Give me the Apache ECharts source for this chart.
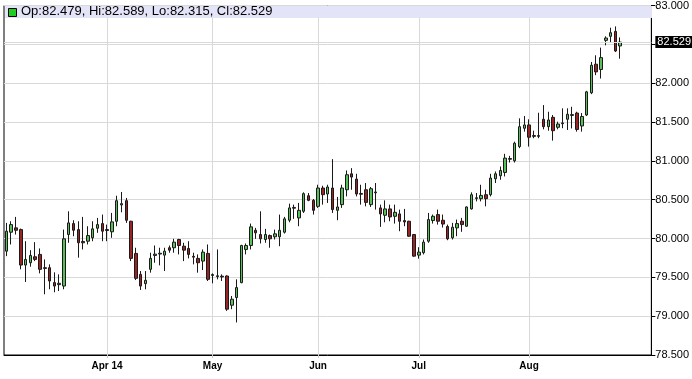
<!DOCTYPE html>
<html>
<head>
<meta charset="utf-8">
<script src="https://cdn.jsdelivr.net/npm/echarts@6/dist/echarts.min.js"></script>
<style>
html,body{margin:0;padding:0;background:#fff;}
#chart{width:692px;height:379px;}
</style>
</head>
<body>
<div id="chart"></div>
<script>
// Trading-day categories (weekdays), Mar 3 2014 .. Sep 5 2014 (last 6 are empty space)
function weekdays(startStr, endStr) {
  const out = [];
  const d = new Date(startStr + 'T00:00:00Z');
  const end = new Date(endStr + 'T00:00:00Z');
  while (d <= end) {
    const wd = d.getUTCDay();
    if (wd !== 0 && wd !== 6) out.push(d.toISOString().slice(0, 10));
    d.setUTCDate(d.getUTCDate() + 1);
  }
  return out;
}
const categories = weekdays('2014-03-03', '2014-09-05');

const monthStarts = ['2014-04-01', '2014-05-01', '2014-06-02', '2014-07-01', '2014-08-01'];
const monthLabels = ['Apr 14', 'May', 'Jun', 'Jul', 'Aug'];

const openValues = [
79.837, 80.081, 80.137, 80.115, 79.658, 79.688, 79.765, 79.795, 79.624, 79.624,
79.432, 79.406, 79.388, 80.051, 80.192, 80.115, 79.962, 79.965, 80.009, 80.132,
80.192, 80.115, 80.086, 80.222, 80.432, 80.487, 80.222, 79.808, 79.538, 79.419,
79.603, 79.782, 79.800, 79.786, 79.881, 79.881, 79.987, 79.901, 79.872, 79.770,
79.744, 79.709, 79.808, 79.535, 79.510, 79.515, 79.517, 79.141, 79.240, 79.432,
79.859, 79.910, 80.106, 80.051, 79.987, 80.038, 80.022, 80.022, 80.081, 80.235,
80.390, 80.265, 80.350, 80.551, 80.491, 80.414, 80.650, 80.573, 80.650, 80.363,
80.436, 80.628, 80.833, 80.765, 80.580, 80.628, 80.436, 80.599, 80.394, 80.299,
80.381, 80.286, 80.317, 80.231, 80.222, 80.051, 79.786, 79.817, 79.965, 80.231,
80.308, 80.235, 80.154, 80.009, 80.137, 80.222, 80.158, 80.381, 80.515, 80.513,
80.564, 80.564, 80.769, 80.808, 80.850, 81.020, 81.000, 81.183, 81.419, 81.462,
81.325, 81.315, 81.535, 81.440, 81.560, 81.432, 81.478, 81.535, 81.585, 81.615,
81.449, 81.590, 81.876, 82.244, 82.176, 82.551, 82.603, 82.667, 82.479
];
const closeValues = [
80.094, 80.179, 80.106, 79.658, 79.731, 79.782, 79.731, 79.603, 79.615, 79.453,
79.388, 79.423, 79.996, 80.201, 80.106, 79.945, 79.945, 80.038, 80.124, 80.179,
80.094, 80.103, 80.214, 80.487, 80.449, 80.235, 79.744, 79.487, 79.388, 79.462,
79.744, 79.799, 79.810, 79.837, 79.850, 79.953, 79.910, 79.850, 79.795, 79.760,
79.688, 79.824, 79.474, 79.525, 79.520, 79.505, 79.090, 79.218, 79.368, 79.910,
79.910, 80.150, 80.073, 79.996, 80.051, 79.996, 80.060, 80.106, 80.253, 80.394,
80.400, 80.363, 80.577, 80.491, 80.363, 80.650, 80.564, 80.663, 80.372, 80.406,
80.650, 80.821, 80.791, 80.573, 80.570, 80.465, 80.641, 80.589, 80.317, 80.381,
80.278, 80.337, 80.222, 80.214, 80.029, 79.773, 79.824, 79.953, 80.244, 80.286,
80.222, 80.186, 79.996, 80.145, 80.192, 80.179, 80.406, 80.564, 80.525, 80.555,
80.513, 80.778, 80.833, 80.876, 81.035, 81.030, 81.227, 81.440, 81.462, 81.304,
81.315, 81.325, 81.440, 81.526, 81.388, 81.474, 81.488, 81.599, 81.595, 81.404,
81.571, 81.888, 82.231, 82.145, 82.329, 82.581, 82.650, 82.414, 82.529
];
const lowValues = [
79.773, 79.923, 80.051, 79.603, 79.440, 79.637, 79.709, 79.551, 79.282, 79.346,
79.308, 79.324, 79.346, 79.945, 80.029, 79.753, 79.859, 79.923, 79.965, 80.073,
79.965, 79.965, 80.009, 80.158, 80.337, 80.201, 79.709, 79.465, 79.337, 79.346,
79.560, 79.688, 79.654, 79.581, 79.817, 79.817, 79.795, 79.709, 79.744, 79.667,
79.560, 79.594, 79.453, 79.423, 79.474, 79.453, 79.068, 79.090, 78.919, 79.423,
79.795, 79.859, 79.996, 79.936, 79.945, 79.881, 79.987, 79.901, 80.064, 80.209,
80.253, 80.158, 80.329, 80.480, 80.308, 80.394, 80.436, 80.458, 80.329, 80.235,
80.394, 80.542, 80.628, 80.542, 80.436, 80.414, 80.406, 80.372, 80.150, 80.209,
80.222, 80.192, 80.094, 80.158, 80.022, 79.765, 79.740, 79.795, 79.945, 80.192,
80.179, 80.141, 79.978, 79.987, 80.029, 80.086, 80.150, 80.372, 80.478, 80.478,
80.414, 80.542, 80.714, 80.756, 80.799, 80.978, 80.978, 81.163, 81.376, 81.183,
81.291, 81.291, 81.406, 81.388, 81.260, 81.406, 81.420, 81.397, 81.417, 81.376,
81.376, 81.577, 81.859, 82.103, 82.060, 82.487, 82.529, 82.401, 82.315
];
const highValues = [
80.201, 80.222, 80.278, 80.128, 79.965, 79.850, 79.953, 79.872, 79.731, 79.667,
79.564, 79.538, 80.115, 80.350, 80.235, 80.222, 80.278, 80.158, 80.222, 80.265,
80.308, 80.179, 80.329, 80.551, 80.599, 80.522, 80.228, 79.881, 79.581, 79.581,
79.817, 79.910, 79.881, 79.881, 79.910, 79.996, 79.996, 79.945, 79.965, 79.817,
79.795, 79.859, 79.923, 79.551, 79.859, 79.538, 79.526, 79.260, 79.474, 79.919,
79.936, 80.192, 80.137, 80.350, 80.124, 80.051, 80.115, 80.308, 80.278, 80.449,
80.436, 80.458, 80.594, 80.586, 80.509, 80.692, 80.679, 80.692, 81.022, 80.535,
80.692, 80.876, 80.906, 80.833, 80.692, 80.714, 80.663, 80.714, 80.436, 80.491,
80.436, 80.436, 80.372, 80.381, 80.228, 80.058, 79.888, 79.987, 80.329, 80.308,
80.372, 80.308, 80.179, 80.201, 80.244, 80.265, 80.414, 80.594, 80.586, 80.692,
80.628, 80.833, 80.863, 80.927, 81.090, 81.064, 81.247, 81.547, 81.577, 81.535,
81.388, 81.619, 81.718, 81.632, 81.590, 81.504, 81.676, 81.676, 81.696, 81.632,
81.615, 81.901, 82.273, 82.359, 82.458, 82.603, 82.714, 82.731, 82.589
];

const yMin = 78.5, yMax = 83.0, yStep = 0.5;

const candleData = openValues.map((o, i) => [o, closeValues[i], lowValues[i], highValues[i]]);
const last = openValues.length - 1;
const fmt = v => v.toFixed(3);
const headerText = 'Op:' + fmt(openValues[last]) + ', Hi:' + fmt(highValues[last]) +
  ', Lo:' + fmt(lowValues[last]) + ', Cl:' + fmt(closeValues[last]);

const monthSet = {};
monthStarts.forEach((d, i) => { monthSet[d] = monthLabels[i]; });
const isMonth = (idx, val) => Object.prototype.hasOwnProperty.call(monthSet, val);

const narrow = "'Liberation Sans Narrow', 'Arial Narrow', 'Liberation Sans', Arial, sans-serif";
const chart = echarts.init(document.getElementById('chart'), null, { renderer: 'canvas' });
chart.setOption({
  animation: false,
  backgroundColor: '#ffffff',
  grid: { left: 4, right: 39, top: 5, bottom: 24, show: true, borderColor: '#000', borderWidth: 1, backgroundColor: '#fff' },
  graphic: [
    { type: 'rect', left: 5, top: 6, shape: { width: 647, height: 12 }, style: { fill: '#e4e4f8' }, z: 1, silent: true },
    { type: 'rect', left: 8, top: 8, shape: { width: 8, height: 8 }, style: { fill: '#22cc22', stroke: '#000', lineWidth: 1 }, z: 5 },
    { type: 'text', left: 21, top: 5, z: 5,
      style: { text: headerText, fill: '#000', font: "13px " + narrow } }
  ],
  xAxis: {
    type: 'category',
    data: categories,
    boundaryGap: true,
    axisLine: { show: true, lineStyle: { color: '#000', width: 1 } },
    axisTick: { show: true, alignWithLabel: true, interval: isMonth, length: 3, lineStyle: { color: '#c8c8c8' } },
    axisLabel: {
      interval: isMonth,
      formatter: v => monthSet[v] || '',
      color: '#000', fontSize: 10, fontWeight: 'bold', fontFamily: narrow, margin: 6
    },
    splitLine: { show: true, interval: isMonth, alignWithLabel: true, lineStyle: { color: '#d9d9d9', width: 1 } }
  },
  yAxis: {
    type: 'value',
    position: 'right',
    min: yMin, max: yMax, interval: yStep,
    scale: true,
    axisLine: { show: true, lineStyle: { color: '#000' } },
    axisTick: { show: true, length: 4, lineStyle: { color: '#000' } },
    axisLabel: { formatter: v => v.toFixed(3), color: '#000', fontSize: 11, fontFamily: "'Liberation Sans', Arial, sans-serif", margin: 4 },
    splitLine: { show: true, lineStyle: { color: '#d9d9d9', width: 1 } }
  },
  series: [{
    type: 'candlestick',
    data: candleData,
    barWidth: 3,
    itemStyle: {
      color: '#58c058', color0: '#9a2424',
      borderColor: '#1a1a1a', borderColor0: '#1a1a1a', borderColorDoji: '#1a1a1a', borderWidth: 1
    },
    markLine: {
      silent: true,
      symbol: ['none', 'none'],
      animation: false,
      lineStyle: { color: '#d9d9d9', type: 'solid', width: 1 },
      label: {
        show: true, position: 'end', distance: 4,
        formatter: () => fmt(closeValues[last]),
        color: '#fff', backgroundColor: '#000', padding: [1, 2, 0, 2],
        fontSize: 11, fontFamily: "'Liberation Sans', Arial, sans-serif"
      },
      data: [{ yAxis: closeValues[last] }]
    }
  }]
});
</script>
</body>
</html>
